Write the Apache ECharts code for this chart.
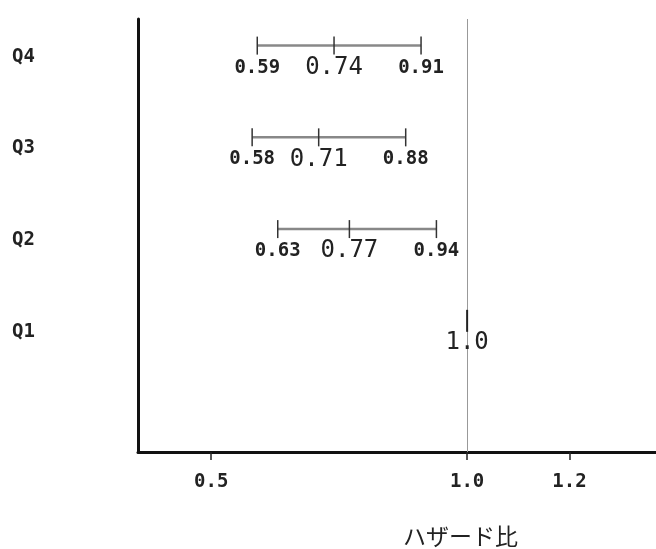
<!DOCTYPE html>
<html>
<head>
<meta charset="utf-8">
<script src="https://cdn.jsdelivr.net/npm/echarts@6/dist/echarts.min.js"></script>
<style>html,body{margin:0;padding:0;background:#fff}#c{width:656px;height:549px}</style>
</head>
<body>
<div id="c"></div>
<script>
var categories = ['Q1', 'Q2', 'Q3', 'Q4'];
var hr = [1.0, 0.77, 0.71, 0.74];
var lower = [1.0, 0.63, 0.58, 0.59];
var upper = [1.0, 0.94, 0.88, 0.91];
var hrLabels = ['1.0', '0.77', '0.71', '0.74'];
var lowerLabels = ['', '0.63', '0.58', '0.59'];
var upperLabels = ['', '0.94', '0.88', '0.91'];
var xTicks = [0.5, 1.0, 1.2];
var xTickLabels = ['0.5', '1.0', '1.2'];
var refValue = 1.0;
var axisTitle = 'ハザード比';

var data = categories.map(function (c, i) { return [i + 1, lower[i], hr[i], upper[i]]; });

var chart = echarts.init(document.getElementById('c'));
chart.setOption({
  animation: false,
  grid: { left: 138, right: 0, top: 19, bottom: 97 },
  xAxis: {
    type: 'value', min: 0.357, max: 1.369,
    splitLine: { show: false },
    axisLine: { show: true, onZero: false, lineStyle: { color: '#111', width: 3 } },
    axisTick: { show: true, customValues: xTicks, length: 8, lineStyle: { color: '#222', width: 1.5 } },
    axisLabel: {
      customValues: xTicks,
      formatter: function (v) { var k = xTicks.indexOf(Math.round(v * 100) / 100); return k >= 0 ? xTickLabels[k] : ''; },
      margin: 21, fontFamily: 'DejaVu Sans Mono', fontWeight: 'bold', fontSize: 19, color: '#222'
    }
  },
  yAxis: {
    type: 'value', min: -0.31, max: 4.41,
    splitLine: { show: false },
    axisLine: { show: true, onZero: false, lineStyle: { color: '#111', width: 3 } },
    axisTick: { show: false },
    axisLabel: {
      customValues: [1, 2, 3, 4],
      formatter: function (v) { return categories[Math.round(v) - 1] || ''; },
      align: 'left', margin: 126,
      fontFamily: 'DejaVu Sans Mono', fontWeight: 'bold', fontSize: 19, color: '#222'
    }
  },
  graphic: [{
    type: 'text', left: 461 - 58, top: 525,
    style: { text: axisTitle, fontFamily: 'Noto Sans CJK JP', fontSize: 23, fill: '#222' }
  }],
  series: [{
    type: 'custom',
    data: data,
    z: 5,
    markLine: {
      silent: true, symbol: 'none', label: { show: false }, z: 1,
      lineStyle: { color: '#999', width: 1, type: 'solid' },
      data: [{ xAxis: refValue }]
    },
    renderItem: function (params, api) {
      var i = params.dataIndex;
      var y = api.value(0);
      var pL = api.coord([api.value(1), y]);
      var pM = api.coord([api.value(2), y]);
      var pU = api.coord([api.value(3), y]);
      var ly = pM[1] - 11;
      var ty = pM[1] + 11;
      var children = [];
      var tickStyle = { stroke: '#333', lineWidth: 1.5 };
      if (pU[0] - pL[0] > 1) {
        children.push({ type: 'line', shape: { x1: pL[0], y1: ly, x2: pU[0], y2: ly }, style: { stroke: '#888', lineWidth: 2.5 } });
        [pL, pM, pU].forEach(function (p) {
          children.push({ type: 'line', shape: { x1: p[0], y1: ly - 9, x2: p[0], y2: ly + 9 }, style: tickStyle });
        });
        children.push({ type: 'text', x: pL[0], y: ty, style: { text: lowerLabels[i], align: 'center', verticalAlign: 'middle', fontFamily: 'DejaVu Sans Mono', fontWeight: 'bold', fontSize: 19, fill: '#222' } });
        children.push({ type: 'text', x: pU[0], y: ty, style: { text: upperLabels[i], align: 'center', verticalAlign: 'middle', fontFamily: 'DejaVu Sans Mono', fontWeight: 'bold', fontSize: 19, fill: '#222' } });
      } else {
        children.push({ type: 'line', shape: { x1: pM[0], y1: ly - 11, x2: pM[0], y2: ly + 11 }, style: { stroke: '#222', lineWidth: 2 } });
      }
      children.push({ type: 'text', x: pM[0], y: ty, style: { text: hrLabels[i], align: 'center', verticalAlign: 'middle', fontFamily: 'DejaVu Sans Mono', fontSize: 24, fill: '#222' } });
      return { type: 'group', children: children };
    }
  }]
});
</script>
</body>
</html>
